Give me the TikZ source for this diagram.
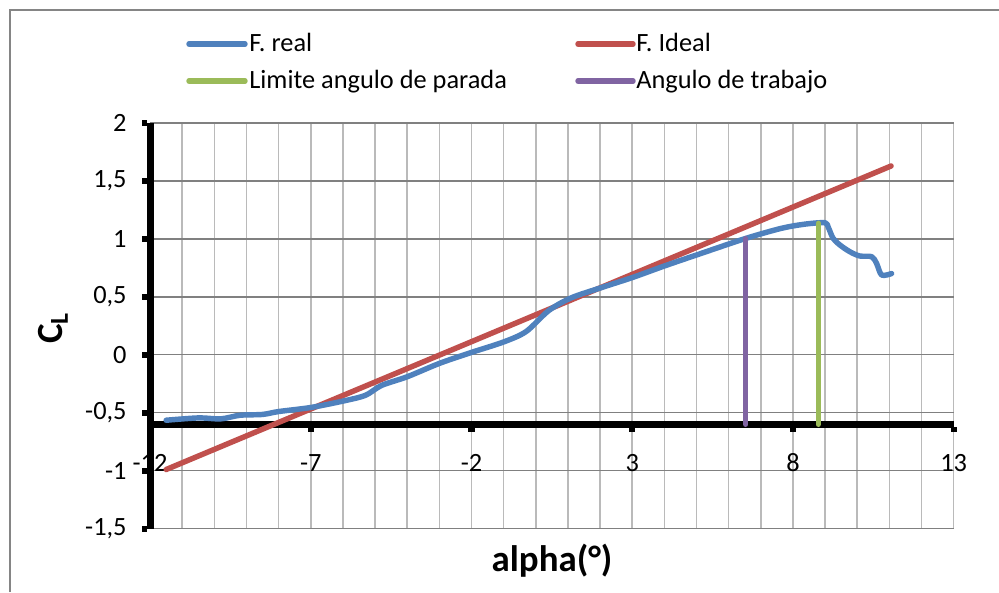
\documentclass[tikz,border=0pt]{standalone}
\usepackage{fontspec}
\setmainfont{Carlito}
\definecolor{freal}{HTML}{4F81BD}
\definecolor{fideal}{HTML}{C0504D}
\definecolor{flimite}{HTML}{9BBB59}
\definecolor{ftrabajo}{HTML}{8064A2}
\begin{document}
\begin{tikzpicture}
  [x=0.02cm,y=-0.02cm,
   every node/.style={inner sep=0pt,font=\fontsize{15}{18}\selectfont},
   gridv/.style={draw=black!27,line width=0.9pt},
   gridh/.style={draw=black!50,line width=0.9pt},
   axisline/.style={line width=4pt,black},
   tickline/.style={line width=3.6pt,black},
   serie/.style={line width=3.1pt,line cap=round,line join=round},
   titulo/.style={font=\fontsize{21}{24}\selectfont\bfseries}]
  \useasboundingbox (0,0) rectangle (999,592);
  % marco
  \draw[black!48,line width=1.5pt] (10,592) -- (10,10) -- (999,10);
  % leyenda
  \draw[serie,freal] (189,44) -- (245,44);
  \node[anchor=base west] (lreal) at (249,51) {F. real};
  \draw[serie,fideal] (578,44) -- (633,44);
  \node[anchor=base west] (lideal) at (636,51) {F. Ideal};
  \draw[serie,flimite] (189,81) -- (245,81);
  \node[anchor=base west] (llimite) at (249,88) {Limite angulo de parada};
  \draw[serie,ftrabajo] (578,81) -- (633,81);
  \node[anchor=base west] (ltrabajo) at (636,88) {Angulo de trabajo};
  % titulos
  \node[titulo] (tx) at (552,561) {alpha(°)};
  \node[titulo,rotate=90] (ty) at (53,328) {C\textsubscript{L}};
  \begin{scope}[shift={(535.8,354.7)},x=0.643cm,y=2.32cm]
    \foreach \a in {-11,...,13}
      \draw[gridv] (\a,-1.5) -- (\a,2);
    \foreach \c in {-1.5,-1,-0.5,0,0.5,1,1.5,2}
      \draw[gridh] (-12,\c) -- (13,\c);
    \foreach \c/\t in {2/2,1.5/{1,5},1/1,0.5/{0,5},0/0,-0.5/{-0,5},-1/-1,-1.5/{-1,5}}
      \node[anchor=east] (y\t) at (-12.72,\c) {\t};
    \foreach \a in {-12,-7,-2,3,8,13}
      \node (x\a) at (\a,-0.93) {\a};
    % ejes
    \draw[axisline] (-12,-1.5) -- (-12,2);
    \draw[axisline] (-12,-0.6) -- (13,-0.6);
    \foreach \c in {-1.5,-1,-0.5,0,0.5,1,1.5,2}
      \draw[tickline] (-12,\c) ++(-1.8pt,0) -- ++(-2.6pt,0);
    \foreach \a in {-7,-2,3,8,13}
      \draw[tickline] (\a,-0.6) ++(0,-1.8pt) -- ++(0,-2.6pt);
    % series
    \draw[serie,fideal] (-11.5,-0.99) -- (11.05,1.627);
    \draw[serie,freal] plot[smooth,tension=0.5] coordinates {
      (-11.5,-0.565) (-10.5,-0.545) (-9.8,-0.553) (-9.2,-0.522) (-8.5,-0.515)
      (-8,-0.49) (-7,-0.455) (-6,-0.40) (-5.3,-0.35) (-4.8,-0.265) (-4,-0.19)
      (-3,-0.075) (-2,0.02) (-1,0.11) (-0.3,0.2) (0.4,0.38) (1.1,0.49)
      (2,0.575) (3,0.665) (4,0.765) (5,0.86) (6.5,1.0) (7.5,1.08) (8,1.11)
      (8.5,1.13) (9,1.138) (9.1,1.098) (9.25,1.003) (9.46,0.946) (9.77,0.888)
      (10.08,0.851) (10.45,0.845) (10.6,0.788) (10.76,0.687) (11.07,0.70)};
    \draw[serie,ftrabajo] (6.53,1.0) -- (6.53,-0.6);
    \draw[serie,flimite] (8.79,1.133) -- (8.79,-0.6);
  \end{scope}
\end{tikzpicture}
\end{document}
